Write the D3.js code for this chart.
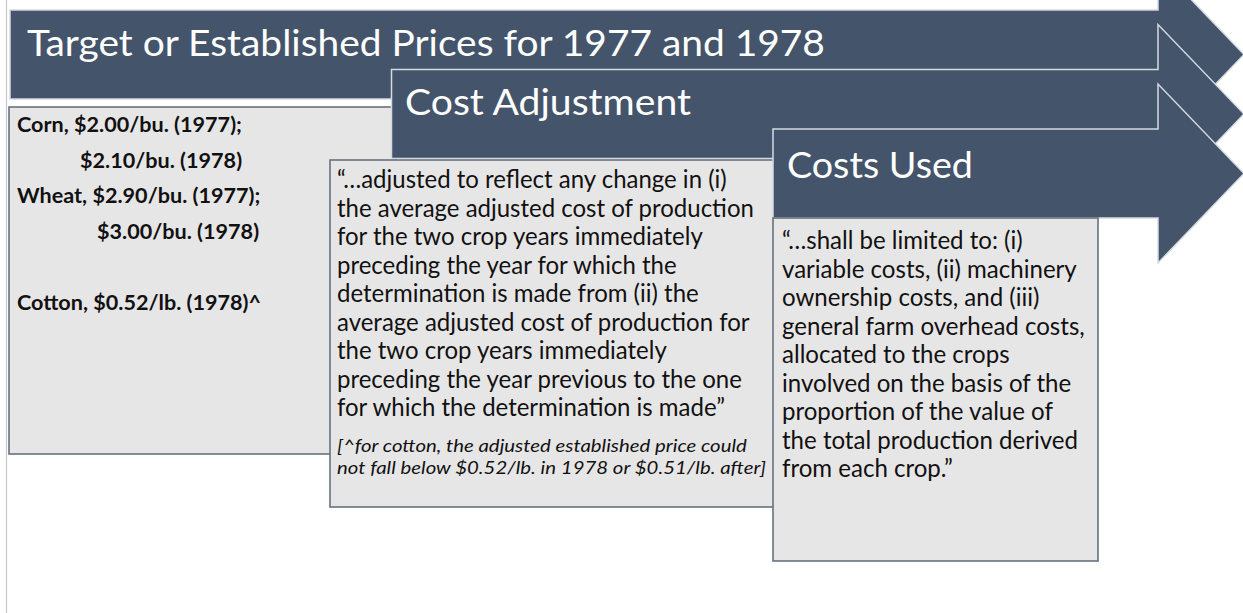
<!DOCTYPE html>
<html>
<head>
<meta charset="utf-8">
<script src="https://cdn.jsdelivr.net/npm/d3@7"></script>
<style>
  html, body { margin: 0; padding: 0; background: #ffffff; }
  svg { display: block; }
</style>
</head>
<body>
<svg id="chart" width="1243" height="613"></svg>
<script>
// ---------- data ----------
const stepTitles = ["Target or Established Prices for 1977 and 1978", "Cost Adjustment", "Costs Used"];
const priceLines = ["Corn, $2.00/bu. (1977);", "$2.10/bu. (1978)", "Wheat, $2.90/bu. (1977);", "$3.00/bu. (1978)", "", "Cotton, $0.52/lb. (1978)^"];
const adjustmentLines = [
  "\u201c\u2026adjusted to reflect any change in (i)",
  "the average adjusted cost of production",
  "for the two crop years immediately",
  "preceding the year for which the",
  "determination is made from (ii) the",
  "average adjusted cost of production for",
  "the two crop years immediately",
  "preceding the year previous to the one",
  "for which the determination is made\u201d"
];
const footnoteLines = [
  "[^for cotton, the adjusted established price could",
  "not fall below $0.52/lb. in 1978 or $0.51/lb. after]"
];
const costsLines = [
  "\u201c\u2026shall be limited to: (i)",
  "variable costs, (ii) machinery",
  "ownership costs, and (iii)",
  "general farm overhead costs,",
  "allocated to the crops",
  "involved on the basis of the",
  "proportion of the value of",
  "the total production derived",
  "from each crop.\u201d"
];

// ---------- layout ----------
const W = 1243, H = 613;
const svg = d3.select("#chart");
const FONT = "Lato, 'Open Sans', sans-serif";
const ARROW_FILL = "#44546a";
const ARROW_EDGE = "#d5dae2";
const BOX_FILL = "#e7e6e6";
const BOX_EDGE = "#67727f";

const stepX = d3.scaleLinear().domain([0, stepTitles.length - 1]).range([10, 773]);
const stepY = d3.scaleLinear().domain([0, stepTitles.length - 1]).range([10, 129]);
const bodyH = 89, bodyRight = 1158, tipX = 1244, headHalf = 89.5;

const boxes = [
  {x0: 9,   y0: 107, x1: 396,  y1: 454},
  {x0: 330, y0: 160, x1: 778,  y1: 507},
  {x0: 773, y0: 218, x1: 1098, y1: 561}
];

// slide frame line
svg.append("line").attr("x1", 6.5).attr("x2", 6.5).attr("y1", 0).attr("y2", H)
  .attr("stroke", "#c9c9c9").attr("stroke-width", 1.2);

function arrowPath(i) {
  const l = stepX(i), t = stepY(i), b = t + bodyH, cy = t + bodyH / 2;
  const p = d3.path();
  p.moveTo(l, t);
  p.lineTo(bodyRight, t);
  p.lineTo(bodyRight, cy - headHalf);
  p.lineTo(tipX, cy);
  p.lineTo(bodyRight, cy + headHalf);
  p.lineTo(bodyRight, b);
  p.lineTo(l, b);
  p.closePath();
  return p.toString();
}

// draw lines; scale horizontally so the reference line spans refWidth
function drawLines(g, lines, o) {
  const texts = g.selectAll(null).data(lines).enter().append("text")
    .attr("x", 0).attr("y", 0)
    .attr("font-family", FONT)
    .attr("font-size", o.size)
    .attr("font-weight", o.weight || "normal")
    .attr("font-style", o.style || "normal")
    .attr("fill", o.fill || "#111")
    .text(d => d);
  const ref = texts.nodes()[o.ref || 0];
  const sx = o.refWidth / ref.getComputedTextLength();
  texts.attr("transform", (d, i) => {
    const x = Array.isArray(o.x) ? o.x[i] : o.x;
    return `translate(${x},${o.y0 + i * o.dy}) scale(${sx},1)`;
  });
}

const titleSpec = [
  {x: 27,  y: 56,  w: 798},
  {x: 405, y: 115, w: 286},
  {x: 787, y: 178, w: 186}
];

stepTitles.forEach((title, i) => {
  // arrow
  svg.append("path").attr("d", arrowPath(i))
    .attr("fill", ARROW_FILL).attr("stroke", ARROW_EDGE).attr("stroke-width", 1.5)
    .attr("stroke-linejoin", "miter");
  const tg = svg.append("g");
  drawLines(tg, [title], {x: titleSpec[i].x, y0: titleSpec[i].y, dy: 0, size: 36, fill: "#ffffff", refWidth: titleSpec[i].w});

  // box
  const b = boxes[i];
  svg.append("rect").attr("x", b.x0).attr("y", b.y0)
    .attr("width", b.x1 - b.x0).attr("height", b.y1 - b.y0)
    .attr("fill", BOX_FILL).attr("stroke", BOX_EDGE).attr("stroke-width", 1.6);

  const g = svg.append("g");
  if (i === 0) {
    drawLines(g, priceLines, {x: [17, 80, 17, 97, 17, 17], y0: 132, dy: 35.6, size: 21, weight: "bold", refWidth: 225, ref: 0});
  } else if (i === 1) {
    drawLines(g, adjustmentLines, {x: 337, y0: 188, dy: 28.5, size: 24.5, refWidth: 417, ref: 1});
    const g2 = svg.append("g");
    drawLines(g2, footnoteLines, {x: 337, y0: 452, dy: 21.5, size: 17.5, style: "italic", refWidth: 410, ref: 0});
  } else {
    drawLines(g, costsLines, {x: 782, y0: 249, dy: 28.5, size: 24.5, refWidth: 303, ref: 3});
  }
});
</script>
</body>
</html>
